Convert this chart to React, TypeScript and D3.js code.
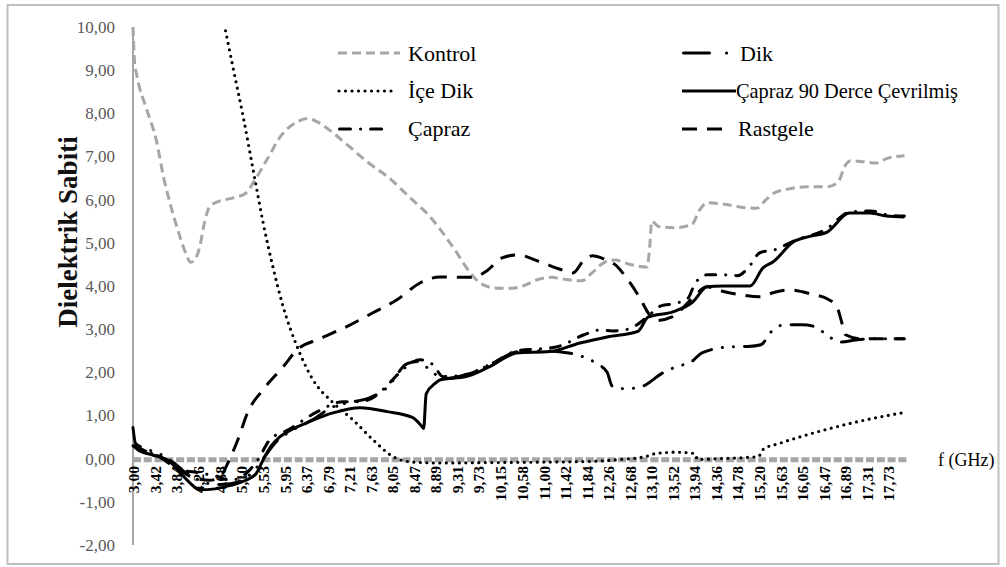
import React from 'react';
import * as d3 from 'd3';

const xTickLabels = ["3,00","3,42","3,84","4,26","4,68","5,10","5,53","5,95","6,37","6,79","7,21","7,63","8,05","8,47","8,89","9,31","9,73","10,15","10,58","11,00","11,42","11,84","12,26","12,68","13,10","13,52","13,94","14,36","14,78","15,20","15,63","16,05","16,47","16,89","17,31","17,73"];
const yTicks = [-2,-1,0,1,2,3,4,5,6,7,8,9,10];

const kontrolF = [3.00,3.03,3.08,3.27,3.45,3.60,3.75,3.90,4.05,4.12,4.20,4.30,4.40,4.50,4.65,4.95,5.20,5.35,5.60,5.90,6.20,6.40,6.60,6.90,7.20,7.60,8.00,8.40,8.80,9.00,9.30,9.55,9.80,10.10,10.40,10.60,10.90,11.15,11.45,11.75,11.95,12.20,12.40,12.70,13.03,13.08,13.12,13.25,13.55,13.90,14.05,14.20,14.50,14.90,15.17,15.35,15.50,15.80,16.15,16.55,16.75,16.90,17.00,17.25,17.50,17.70,18.05];
const kontrolV = [10.0,9.2,8.85,8.08,7.4,6.5,5.8,5.2,4.7,4.55,4.6,4.9,5.5,5.85,5.95,6.04,6.15,6.4,6.9,7.5,7.8,7.88,7.8,7.55,7.25,6.85,6.5,6.05,5.6,5.3,4.8,4.35,4.05,3.95,3.95,4.0,4.15,4.2,4.15,4.12,4.3,4.55,4.6,4.5,4.44,4.9,5.5,5.38,5.35,5.42,5.75,5.93,5.9,5.82,5.8,6.0,6.15,6.25,6.3,6.3,6.4,6.8,6.9,6.88,6.85,6.95,7.02];

const iceDikF = [4.70,4.79,4.95,5.15,5.38,5.54,5.73,5.93,6.20,6.51,6.90,7.29,7.68,8.07,8.46,9.00,10.00,11.00,12.00,12.50,13.00,13.20,13.60,13.95,14.02,14.40,15.00,15.20,15.30,15.60,16.00,16.60,17.30,18.05];
const iceDikV = [10.5,10.0,9.07,7.92,6.46,5.46,4.44,3.52,2.6,1.83,1.3,0.9,0.44,0.05,-0.08,-0.1,-0.09,-0.08,-0.06,-0.02,0.05,0.12,0.15,0.12,-0.02,0.0,0.03,0.05,0.22,0.35,0.5,0.7,0.9,1.07];

const caprazF = [3.00,3.20,3.50,3.90,4.30,4.66,4.90,5.20,5.45,5.67,6.00,6.60,7.10,7.43,7.72,8.00,8.30,8.60,8.85,9.05,9.50,10.00,10.50,11.00,11.30,11.80,12.10,12.35,12.66,13.00,13.30,13.60,13.83,13.96,14.20,14.50,14.80,15.00,15.23,15.52,15.90,16.50,17.00,17.40,17.70,18.05];
const caprazV = [0.3,0.2,0.05,-0.25,-0.33,-0.42,-0.5,-0.35,0.0,0.44,0.65,1.09,1.32,1.32,1.44,1.75,2.1,2.29,2.18,1.9,1.95,2.2,2.5,2.55,2.6,2.87,2.98,2.96,3.0,3.25,3.54,3.6,3.72,4.05,4.26,4.26,4.24,4.42,4.77,4.84,5.05,5.3,5.72,5.74,5.65,5.62];

const dikF = [3.00,3.05,3.20,3.50,3.80,4.00,4.30,4.60,4.90,5.20,5.45,5.60,5.80,6.10,6.50,6.90,7.20,7.60,7.95,8.35,8.55,8.80,9.05,9.50,10.00,10.50,11.00,11.50,11.78,12.05,12.25,12.35,12.60,12.90,13.34,13.60,13.90,14.10,14.65,15.00,15.25,15.45,15.70,16.05,16.30,16.55,16.80,17.10,17.50,18.05];
const dikV = [0.72,0.35,0.25,0.12,-0.1,-0.3,-0.5,-0.6,-0.58,-0.45,-0.15,0.1,0.4,0.65,0.9,1.2,1.3,1.4,1.64,2.2,2.25,2.05,1.85,1.95,2.2,2.48,2.5,2.45,2.36,2.2,2.0,1.68,1.62,1.66,1.99,2.13,2.25,2.45,2.59,2.6,2.64,2.94,3.1,3.1,3.06,2.85,2.7,2.75,2.78,2.78];

const capraz90F = [3.00,3.10,3.40,3.70,3.90,4.10,4.30,4.60,4.90,5.20,5.40,5.55,5.70,5.87,6.10,6.39,6.90,7.43,7.96,8.46,8.64,8.67,8.72,8.90,9.00,9.50,9.96,10.49,11.13,11.72,12.25,12.85,13.05,13.53,13.92,14.20,14.50,15.04,15.29,15.49,15.88,16.20,16.54,16.98,17.38,17.70,18.05];
const capraz90V = [0.3,0.2,0.08,-0.05,-0.3,-0.55,-0.72,-0.7,-0.62,-0.5,-0.35,0.0,0.3,0.51,0.68,0.83,1.06,1.18,1.09,0.95,0.74,0.7,1.5,1.75,1.83,1.9,2.13,2.45,2.48,2.68,2.82,2.95,3.28,3.4,3.63,3.98,4.0,4.0,4.42,4.56,5.02,5.15,5.25,5.69,5.69,5.62,5.6];

const rastgeleF = [3.00,3.30,3.60,3.90,4.20,4.50,4.70,4.87,5.05,5.24,5.54,5.93,6.20,6.65,7.17,7.68,8.15,8.60,8.99,9.63,9.90,10.20,10.50,10.94,11.30,11.58,11.80,11.97,12.20,12.40,12.65,12.90,13.05,13.20,13.53,13.90,14.20,14.50,14.84,15.23,15.50,15.80,16.27,16.55,16.73,16.85,16.90,17.18,18.05];
const rastgeleV = [0.3,0.15,0.0,-0.25,-0.45,-0.5,-0.42,-0.05,0.45,1.08,1.6,2.13,2.52,2.78,3.06,3.38,3.68,4.07,4.21,4.2,4.35,4.65,4.72,4.56,4.4,4.3,4.6,4.7,4.62,4.5,4.15,3.7,3.38,3.2,3.29,3.7,3.98,3.88,3.8,3.75,3.85,3.91,3.8,3.7,3.52,3.06,2.87,2.78,2.78];

const seriesNames = ["Kontrol","İçe Dik","Çapraz","Dik","Çapraz 90 Derce Çevrilmiş","Rastgele"];

const FONT = "'Liberation Serif', 'Times New Roman', serif";

type Style = { stroke: string; width: number; dash?: string; cap: 'butt' | 'round'; legendDash?: string };
const styles: Style[] = [
  { stroke: '#A6A6A6', width: 3, dash: '9 5', cap: 'butt' },
  { stroke: '#000', width: 3.2, dash: '0 6.5', cap: 'round' },
  { stroke: '#000', width: 3, dash: '10 10 0.1 10', cap: 'round', legendDash: '11 10 0.1 10' },
  { stroke: '#000', width: 3, dash: '22 11 0.1 11 0.1 11', cap: 'round', legendDash: '26 17 0.1 100' },
  { stroke: '#000', width: 3, cap: 'butt' },
  { stroke: '#000', width: 3, dash: '15 10', cap: 'butt' },
];

const legendPos = [
  { x1: 338, x2: 400, ly: 53, tx: 408, ty: 61, len: 0 },
  { x1: 339, x2: 392, ly: 91, tx: 408, ty: 98, len: 0 },
  { x1: 339.5, x2: 388, ly: 129, tx: 408, ty: 136, len: 0 },
  { x1: 683.5, x2: 730, ly: 53, tx: 740, ty: 61, len: 0 },
  { x1: 682, x2: 736, ly: 91, tx: 736, ty: 98, len: 222 },
  { x1: 682, x2: 726, ly: 129, tx: 738, ty: 136, len: 0 },
];

export default function App() {
  const W = 1006, H = 567;
  const x = d3.scaleLinear().domain([3, 18.1]).range([133, 907]);
  const y = d3.scaleLinear().domain([-2, 10]).range([545, 27]);
  const line = d3.line<[number, number]>().x(d => x(d[0])).y(d => y(d[1])).curve(d3.curveMonotoneX);
  const zip = (f: number[], v: number[]) => f.map((fv, i) => [fv, v[i]] as [number, number]);
  const data = [
    zip(kontrolF, kontrolV),
    zip(iceDikF, iceDikV),
    zip(caprazF, caprazV),
    zip(dikF, dikV),
    zip(capraz90F, capraz90V),
    zip(rastgeleF, rastgeleV),
  ];
  const tickVals = xTickLabels.map(s => parseFloat(s.replace(',', '.')));
  const fmt = (v: number) => v.toFixed(2).replace('.', ',');

  return (
    <svg width={W} height={H} style={{ position: 'absolute', left: 0, top: 0, background: '#fff' }} fontFamily={FONT}>
      <defs>
        <clipPath id="plotClip">
          <rect x={x(3) - 2} y={y(10)} width={x(18.1) - x(3) + 6} height={y(-2) - y(10)} />
        </clipPath>
      </defs>
      <rect x={7.5} y={5} width={991} height={559} fill="#fff" stroke="#BFBFBF" strokeWidth={2} />

      {yTicks.map(t => (
        <text key={t} x={115} y={y(t)} dy="0.35em" textAnchor="end" fontSize={17} fill="#595959">{fmt(t)}</text>
      ))}
      <line x1={x(3)} x2={x(3)} y1={y(10)} y2={y(-2)} stroke="#A6A6A6" strokeWidth={2} />
      <line x1={x(3)} x2={x(18.1)} y1={y(0) + 1} y2={y(0) + 1} stroke="#A6A6A6" strokeWidth={5} strokeDasharray="8 2.78" />
      {xTickLabels.map((s, i) => (
        <text key={s} transform={`translate(${x(tickVals[i]) + 1},466) rotate(-90)`} textAnchor="end" dy="0.35em"
          fontSize={15.5} fontWeight="bold" fill="#000">{s}</text>
      ))}

      <g clipPath="url(#plotClip)">
        {data.map((d, i) => (
          <path key={i} d={line(d) || ''} fill="none" stroke={styles[i].stroke} strokeWidth={styles[i].width}
            strokeDasharray={styles[i].dash} strokeLinecap={styles[i].cap} strokeLinejoin="round" />
        ))}
      </g>

      <text transform="translate(77,232) rotate(-90)" textAnchor="middle" fontSize={27} fontWeight="bold" fill="#111">Dielektrik Sabiti</text>
      <text x={938} y={466} fontSize={18} fill="#000">f (GHz)</text>

      {seriesNames.map((name, i) => {
        const p = legendPos[i];
        const s = styles[i];
        return (
          <g key={name}>
            <line x1={p.x1} x2={p.x2} y1={p.ly} y2={p.ly} stroke={s.stroke} strokeWidth={s.width}
              strokeDasharray={s.legendDash || s.dash} strokeLinecap={s.cap} />
            {p.len ? (
              <text x={p.tx} y={p.ty} fontSize={22} fill="#000" textLength={p.len} lengthAdjust="spacingAndGlyphs">{name}</text>
            ) : (
              <text x={p.tx} y={p.ty} fontSize={22} fill="#000">{name}</text>
            )}
          </g>
        );
      })}
    </svg>
  );
}
